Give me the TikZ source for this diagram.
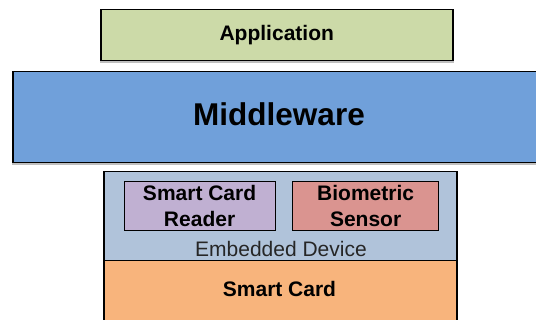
\documentclass[tikz,border=0pt]{standalone}
\usepackage{fontspec}
\setmainfont{Liberation Sans}
\definecolor{appgreen}{RGB}{204,218,168}
\definecolor{midblue}{RGB}{112,160,218}
\definecolor{devblue}{RGB}{176,195,218}
\definecolor{readerlilac}{RGB}{192,176,210}
\definecolor{sensorred}{RGB}{218,148,144}
\definecolor{cardorange}{RGB}{248,180,124}
\tikzset{
  layer/.style={draw=black, line width=1.5pt, rectangle, anchor=north west,
    inner sep=0pt, font=\fontsize{21}{26.7}\selectfont\bfseries, align=center},
  shadowed/.style={preaction={draw=black!25, line width=1.5pt, transform canvas={yshift=-1.2pt}}},
  devlabel/.style={font=\fontsize{21}{25}\selectfont, text=black!85, anchor=base, inner sep=0pt}
}
\begin{document}
\begin{tikzpicture}[x=1pt,y=1pt]
  \useasboundingbox (0,0) rectangle (536,-320);
  \clip (0,0) rectangle (536,-320);
  \fill[white] (0,0) rectangle (536,-320);

  % application layer
  \node[layer, shadowed, fill=appgreen, minimum width=352pt, minimum height=51pt]
    (app) at (100,-9) {Application};

  % middleware layer, running off the right edge
  \node[layer, shadowed, fill=midblue, minimum width=545pt, minimum height=91pt]
    (mid) at (12,-71) {};
  \node[font=\fontsize{31.5}{38}\selectfont\bfseries, inner sep=0pt, anchor=base]
    (midtext) at (279,-126) {Middleware};

  % embedded device with its two components
  \node[layer, fill=devblue, minimum width=353pt, minimum height=89pt] (dev) at (103,-171) {};
  \node[layer, line width=1.2pt, fill=readerlilac, minimum width=151pt, minimum height=49pt]
    (reader) at (123.5,-181) {Smart Card\\Reader};
  \node[layer, line width=1.2pt, fill=sensorred, minimum width=146pt, minimum height=49pt]
    (sensor) at (292,-181) {Biometric\\Sensor};
  \node[devlabel] (devtext) at (281,-256.7) {Embedded Device};

  % smart card layer at the bottom
  \node[layer, fill=cardorange, minimum width=353pt, minimum height=64pt] (card) at (103,-260) {};
  \node[font=\fontsize{21}{26}\selectfont\bfseries, inner sep=0pt, anchor=base]
    (cardtext) at (279.5,-296.7) {Smart Card};
\end{tikzpicture}
\end{document}
